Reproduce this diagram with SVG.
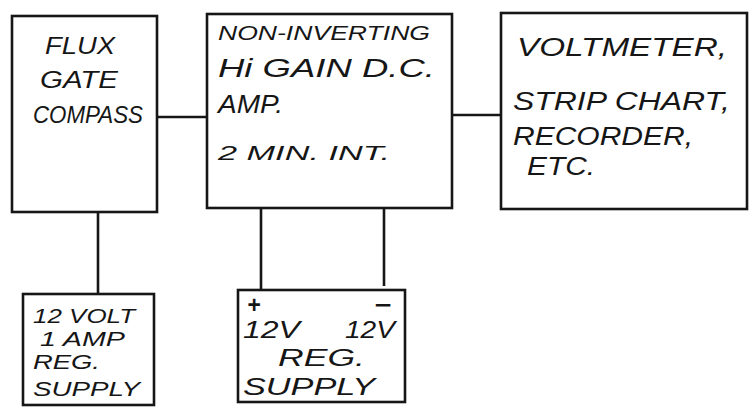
<svg xmlns="http://www.w3.org/2000/svg" width="752" height="413" viewBox="0 0 752 413">
<style>
.box{fill:none;stroke:#161616;stroke-width:2.6;stroke-linecap:square}
.wire{fill:none;stroke:#161616;stroke-width:2.6}
text{font-family:"Liberation Sans","DejaVu Sans",sans-serif;fill:#161616;font-size:23px;font-style:italic}
.s{font-size:20px}
.l{font-size:25px}
.m{font-size:21px}
</style>
<rect width="752" height="413" fill="#ffffff"/>
<g id="connectors">
<line class="wire" x1="157" y1="117" x2="207" y2="117"/>
<line class="wire" x1="452" y1="115" x2="501" y2="115"/>
<line class="wire" x1="98" y1="212" x2="98" y2="294"/>
<line class="wire" x1="261" y1="208" x2="261" y2="290"/>
<line class="wire" x1="384" y1="208" x2="384" y2="286"/>
</g>
<g id="compass">
<rect class="box" x="12" y="16" width="145" height="196"/>
<text x="45" y="54" textLength="70" lengthAdjust="spacingAndGlyphs">FLUX</text>
<text x="40" y="88" textLength="78" lengthAdjust="spacingAndGlyphs">GATE</text>
<text x="33" y="123" font-size="24" textLength="110" lengthAdjust="spacingAndGlyphs">COMPASS</text>
</g>
<g id="amp">
<rect class="box" x="207" y="14" width="245" height="194"/>
<text class="s" x="218" y="40" textLength="212" lengthAdjust="spacingAndGlyphs">NON-INVERTING</text>
<text class="l" x="218" y="77" textLength="217" lengthAdjust="spacingAndGlyphs">Hi GAIN D.C.</text>
<text class="l" x="218" y="113" textLength="65" lengthAdjust="spacingAndGlyphs">AMP.</text>
<text class="m" x="218" y="160" textLength="172" lengthAdjust="spacingAndGlyphs">2 MIN. INT.</text>
</g>
<g id="output">
<rect class="box" x="501" y="13" width="246" height="196"/>
<text class="l" x="517" y="56" textLength="210" lengthAdjust="spacingAndGlyphs">VOLTMETER,</text>
<text class="l" x="513" y="110" textLength="217" lengthAdjust="spacingAndGlyphs">STRIP CHART,</text>
<text class="l" x="513" y="145" textLength="180" lengthAdjust="spacingAndGlyphs">RECORDER,</text>
<text class="l" x="527" y="175" textLength="68" lengthAdjust="spacingAndGlyphs">ETC.</text>
</g>
<g id="supply2">
<rect class="box" x="238" y="290" width="167" height="112"/>
<text x="247" y="313" font-size="22" font-weight="bold">+</text>
<text x="374" y="313" font-size="22" font-weight="bold" textLength="17" lengthAdjust="spacingAndGlyphs">−</text>
<text x="243" y="338" textLength="57" lengthAdjust="spacingAndGlyphs">12V</text>
<text x="345" y="338" textLength="50" lengthAdjust="spacingAndGlyphs">12V</text>
<text x="278" y="366" textLength="87" lengthAdjust="spacingAndGlyphs">REG.</text>
<text x="243" y="395" textLength="132" lengthAdjust="spacingAndGlyphs">SUPPLY</text>
</g>
<g id="supply1">
<rect class="box" x="23" y="294" width="131" height="111"/>
<text class="s" x="33" y="323" textLength="102" lengthAdjust="spacingAndGlyphs">12 VOLT</text>
<text class="s" x="40" y="346" textLength="85" lengthAdjust="spacingAndGlyphs">1 AMP</text>
<text class="s" x="33" y="369" textLength="67" lengthAdjust="spacingAndGlyphs">REG.</text>
<text class="s" x="33" y="396" textLength="107" lengthAdjust="spacingAndGlyphs">SUPPLY</text>
</g>
</svg>
